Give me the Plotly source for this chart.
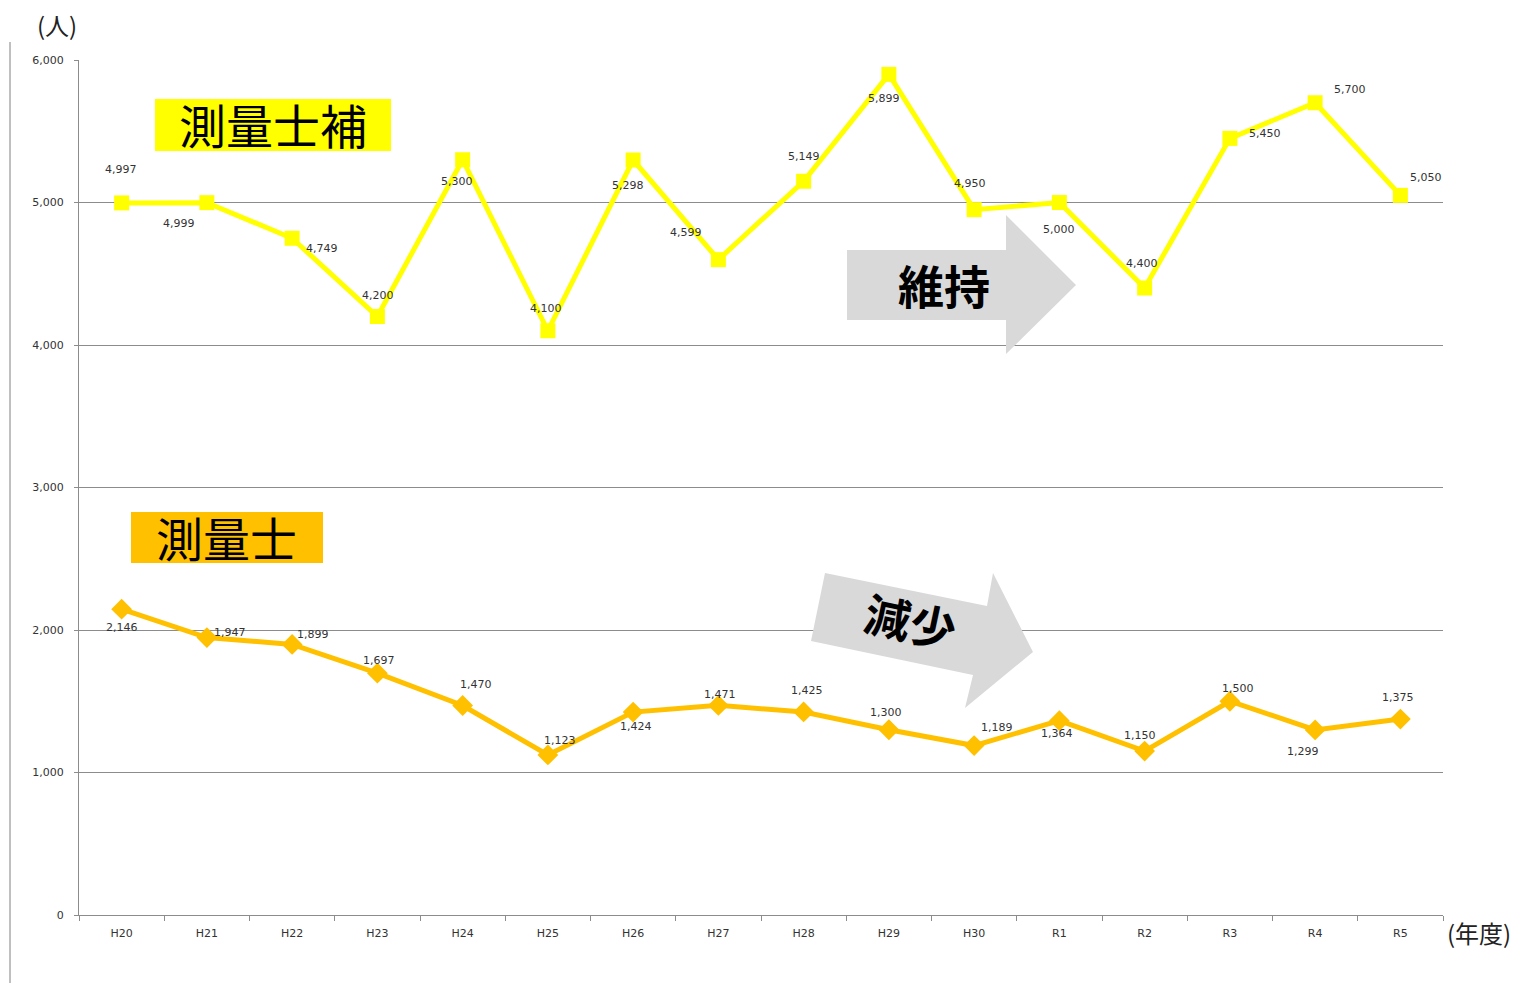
import plotly.graph_objects as go

# ---- data ----
years = ["H20", "H21", "H22", "H23", "H24", "H25", "H26", "H27", "H28", "H29",
         "H30", "R1", "R2", "R3", "R4", "R5"]
hoshi = [4997, 4999, 4749, 4200, 5300, 4100, 5298, 4599, 5149, 5899,
         4950, 5000, 4400, 5450, 5700, 5050]          # 測量士補
shi = [2146, 1947, 1899, 1697, 1470, 1123, 1424, 1471, 1425, 1300,
       1189, 1364, 1150, 1500, 1299, 1375]            # 測量士
y_ticks = [0, 1000, 2000, 3000, 4000, 5000, 6000]

# label offsets (pixels: dx, dy up)
hoshi_off = [(-1, 33), (-28, -21), (30, -10), (1, 21), (-6, -22), (-2, 22), (-5, -25),
             (-32, 27), (0, 25), (-5, -24), (-4, 26), (0, -27), (-3, 25), (35, 5),
             (35, 13), (26, 18)]
shi_off = [(0, -18), (23, 5), (21, 10), (2, 13), (13, 21), (12, 14), (3, -14),
           (2, 11), (3, 21), (-3, 17), (23, 18), (-2, -13), (-5, 16), (8, 13),
           (-12, -22), (-2, 22)]

PAGE = 8  # default body margin of the html page
W, H = 1520, 983
L, R, T, B = 79, 1443, 60, 915


def px(x):
    return (x - L) / (R - L)


def py(y):
    return (B - y) / (B - T)


def path(points):
    return "M " + " L ".join(f"{px(a):.5f},{py(b):.5f}" for a, b in points) + " Z"


YELLOW = "#FFFF00"
ORANGE = "#FFC000"
GRID = "#8C8C8C"

fig = go.Figure()
fig.add_trace(go.Scatter(x=years, y=hoshi, mode="lines+markers",
                         line=dict(color=YELLOW, width=5),
                         marker=dict(symbol="square", size=15, color=YELLOW),
                         hoverinfo="x+y", showlegend=False))
fig.add_trace(go.Scatter(x=years, y=shi, mode="lines+markers",
                         line=dict(color=ORANGE, width=5),
                         marker=dict(symbol="diamond", size=16, color=ORANGE),
                         hoverinfo="x+y", showlegend=False))

annotations = []
lab_font = dict(family="DejaVu Sans", size=11, color="#333333")
for xs, ys, offs in ((years, hoshi, hoshi_off), (years, shi, shi_off)):
    for x, v, (dx, dy) in zip(xs, ys, offs):
        annotations.append(dict(x=x, y=v, xref="x", yref="y", text=f"{v:,}",
                                showarrow=False, xshift=dx, yshift=dy, font=lab_font,
                                xanchor="center", yanchor="middle"))

shapes = []
# left border line
shapes.append(dict(type="line", xref="paper", yref="paper", x0=px(10), x1=px(10),
                   y0=py(42), y1=py(983), line=dict(color="#808080", width=1)))
# name boxes
shapes.append(dict(type="rect", xref="paper", yref="paper", x0=px(155), x1=px(391),
                   y0=py(151), y1=py(99), fillcolor=YELLOW, line=dict(width=0), layer="below"))
shapes.append(dict(type="rect", xref="paper", yref="paper", x0=px(131), x1=px(323),
                   y0=py(563), y1=py(512), fillcolor=ORANGE, line=dict(width=0), layer="below"))
# arrows
shapes.append(dict(type="path", xref="paper", yref="paper",
                   path=path([(847, 250), (1006, 250), (1006, 215), (1076, 285),
                              (1006, 354), (1006, 320), (847, 320)]),
                   fillcolor="#D9D9D9", line=dict(width=0)))
shapes.append(dict(type="path", xref="paper", yref="paper",
                   path=path([(825, 573), (987, 606), (993, 573), (1033, 652),
                              (965, 708), (973, 675), (811, 641)]),
                   fillcolor="#D9D9D9", line=dict(width=0)))

cjk = "Noto Sans CJK JP"


def txt(x, y, text, size, angle=0, color="black"):
    return dict(xref="paper", yref="paper", x=px(x), y=py(y), text=text, showarrow=False,
                xanchor="center", yanchor="middle", textangle=angle,
                font=dict(family=cjk, size=size, color=color))


annotations += [
    txt(273, 123, "測量士補", 47),
    txt(226, 536, "測量士", 47),
    txt(944, 284, "<b>維持</b>", 46),
    txt(911, 620, "<b>減少</b>", 46, angle=12),
    txt(57, 25, "(人)", 24, color="#222222"),
    txt(1479, 932, "(年度)", 24, color="#222222"),
]

fig.update_layout(
    width=W - PAGE, height=H - PAGE,
    margin=dict(l=L - PAGE, r=W - R, t=T - PAGE, b=H - B, pad=0),
    plot_bgcolor="white", paper_bgcolor="white",
    shapes=shapes, annotations=annotations,
    xaxis=dict(type="category", range=[-0.5, 15.5], showgrid=False,
               showline=True, linecolor=GRID, linewidth=1,
               ticks="outside", tickson="boundaries", ticklen=5, tickcolor=GRID,
               ticklabelstandoff=8,
               tickfont=dict(family="DejaVu Sans", size=11, color="#333333"),
               fixedrange=True),
    yaxis=dict(range=[0, 6000], tickvals=y_ticks,
               ticktext=[f"{v:,}" for v in y_ticks],
               showgrid=True, gridcolor=GRID, gridwidth=1,
               showline=True, linecolor=GRID, linewidth=1,
               ticks="outside", ticklen=4, tickcolor=GRID,
               ticklabelstandoff=8,
               tickfont=dict(family="DejaVu Sans", size=11, color="#333333"),
               zeroline=False, fixedrange=True),
)

fig.write_html("out.html")
